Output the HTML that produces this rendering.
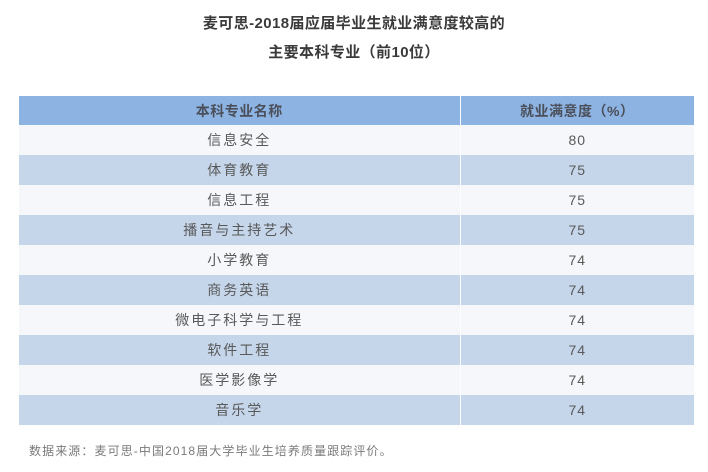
<!DOCTYPE html>
<html><head><meta charset="utf-8"><style>
html,body{margin:0;padding:0;background:#fff;}
body{width:708px;height:472px;position:relative;overflow:hidden;font-family:"Liberation Sans","Noto Sans CJK SC",sans-serif;}
.t{position:absolute;left:0;width:708px;text-align:center;font-weight:bold;color:#3a3a3a;font-size:15px;line-height:20px;letter-spacing:0.4px;}
table{position:absolute;left:19px;top:96px;width:675px;border-collapse:collapse;table-layout:fixed;}
td,th{padding:0;text-align:center;height:30px;font-size:14px;color:#595959;letter-spacing:2px;}
td.n{letter-spacing:1px;}
th{height:29px;background:#8db3e2;color:#4a4f5a;font-weight:bold;letter-spacing:0.5px;}
td.c1,th.c1{border-right:1px solid #fff;}
tr.o td{background:#f5f7fa;}
tr.e td{background:#c5d5ea;}
.f{position:absolute;left:29px;top:443px;font-size:12px;color:#7a7a7a;letter-spacing:1.1px;line-height:16px;}
</style></head><body>
<div class="t" style="top:14px;">麦可思-2018届应届毕业生就业满意度较高的</div>
<div class="t" style="top:43px;">主要本科专业（前10位）</div>
<table>
<colgroup><col style="width:441px"><col style="width:234px"></colgroup>
<tr><th class="c1">本科专业名称</th><th>就业满意度（%）</th></tr>
<tr class="o"><td class="c1">信息安全</td><td class="n">80</td></tr>
<tr class="e"><td class="c1">体育教育</td><td class="n">75</td></tr>
<tr class="o"><td class="c1">信息工程</td><td class="n">75</td></tr>
<tr class="e"><td class="c1">播音与主持艺术</td><td class="n">75</td></tr>
<tr class="o"><td class="c1">小学教育</td><td class="n">74</td></tr>
<tr class="e"><td class="c1">商务英语</td><td class="n">74</td></tr>
<tr class="o"><td class="c1">微电子科学与工程</td><td class="n">74</td></tr>
<tr class="e"><td class="c1">软件工程</td><td class="n">74</td></tr>
<tr class="o"><td class="c1">医学影像学</td><td class="n">74</td></tr>
<tr class="e"><td class="c1">音乐学</td><td class="n">74</td></tr>
</table>
<div class="f">数据来源：麦可思-中国2018届大学毕业生培养质量跟踪评价。</div>
</body></html>
